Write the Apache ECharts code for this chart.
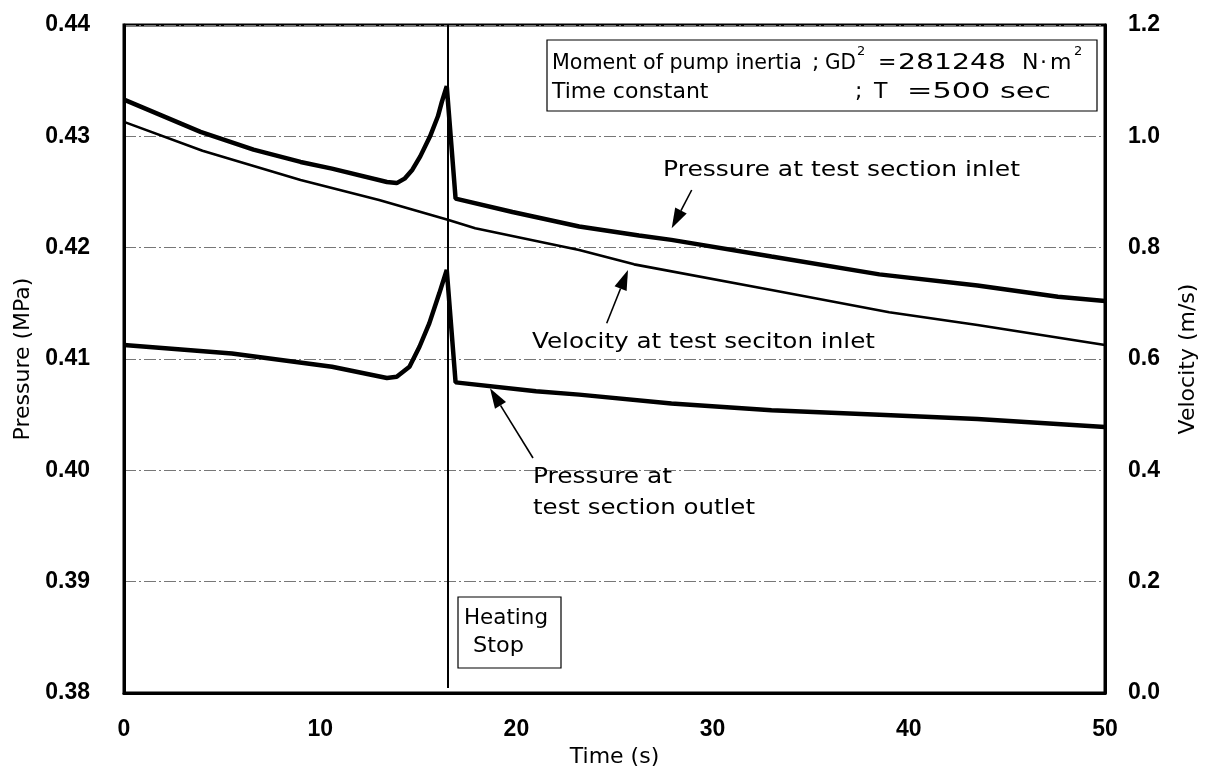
<!DOCTYPE html>
<html>
<head>
<meta charset="utf-8">
<script src="https://cdn.jsdelivr.net/npm/echarts@6/dist/echarts.min.js"></script>
<style>
html,body{margin:0;padding:0;background:#fff;}
#chart{width:1207px;height:777px;}
</style>
</head>
<body>
<div id="chart"></div>
<script>
// ---------- data ----------
const timeTicks = [0, 10, 20, 30, 40, 50];
const pressureTicks = [0.38, 0.39, 0.40, 0.41, 0.42, 0.43, 0.44];
const velocityTicks = [0.0, 0.2, 0.4, 0.6, 0.8, 1.0, 1.2];

const timeInlet = [0, 3.9, 6.6, 9.0, 10.6, 13.4, 13.9, 14.3, 14.7, 15.1, 15.6, 16.0, 16.2, 16.45, 16.9, 19.8, 23.2, 26.25, 27.9, 33.0, 38.5, 43.5, 47.6, 50];
const pressureInlet = [0.4333, 0.4304, 0.4288, 0.4277, 0.4271, 0.4259, 0.4258, 0.4262, 0.4270, 0.4282, 0.4300, 0.4318, 0.4331, 0.4345, 0.4244, 0.4232, 0.4219, 0.4211, 0.4207, 0.4192, 0.4176, 0.4166, 0.4156, 0.4152];

const timeOutlet = [0, 5.5, 10.6, 13.4, 13.9, 14.55, 15.06, 15.56, 16.07, 16.45, 16.9, 21.0, 23.2, 27.9, 33.0, 38.5, 43.5, 50];
const pressureOutlet = [0.41125, 0.4105, 0.4093, 0.4083, 0.4084, 0.4093, 0.4111, 0.4132, 0.4159, 0.4180, 0.4079, 0.4071, 0.4068, 0.4060, 0.4054, 0.4050, 0.4046, 0.4039];

const timeVelocity = [0, 4.0, 9.0, 13.0, 16.5, 17.9, 23.2, 26.0, 33.0, 35.7, 39.0, 43.5, 50];
const velocityInlet = [1.026, 0.974, 0.9215, 0.8856, 0.850, 0.8347, 0.7958, 0.770, 0.7239, 0.7059, 0.684, 0.661, 0.6251];

const heatingStopTime = 16.5;
const heatingLineRange = [0.4400, 0.38045];

// ---------- chart ----------
const NUMFONT = '"Liberation Sans", Arial, sans-serif';
const TXTFONT = '"DejaVu Sans", sans-serif';
const pairs = (xs, ys) => xs.map((x, i) => [x, ys[i]]);

const chart = echarts.init(document.getElementById('chart'), null, {renderer: 'canvas'});

const measureCtx = document.createElement('canvas').getContext('2d');
function measure(str, size) {
  measureCtx.font = size + 'px ' + TXTFONT;
  return measureCtx.measureText(str).width;
}
function txt(str, x, y, w, size) {
  size = size || 22;
  const font = size + 'px ' + TXTFONT;
  let s = 1;
  if (w) {
    const m = measure(str, size);
    if (m > 0) s = w / m;
  }
  return {
    type: 'text', x: x, y: y, scaleX: s, z: 100,
    style: {text: str, font: font, fill: '#000', align: 'left', verticalAlign: 'middle'}
  };
}
function arrow(x1, y1, x2, y2) {
  const dx = x2 - x1, dy = y2 - y1, L = Math.sqrt(dx * dx + dy * dy);
  const ux = dx / L, uy = dy / L, hl = 20, hw = 6.5;
  const bx = x2 - ux * hl, by = y2 - uy * hl;
  return [
    {type: 'line', z: 100, shape: {x1: x1, y1: y1, x2: bx, y2: by}, style: {stroke: '#000', lineWidth: 1.6}},
    {type: 'polygon', z: 100, shape: {points: [[x2, y2], [bx - uy * hw, by + ux * hw], [bx + uy * hw, by - ux * hw]]}, style: {fill: '#000'}}
  ];
}

const graphics = [
  // parameter box
  {type: 'rect', z: 90, shape: {x: 547, y: 40, width: 550, height: 71}, style: {fill: '#fff', stroke: '#000', lineWidth: 1.2}},
  txt('Moment of pump inertia', 552, 63, 250),
  txt(';', 812, 63),
  txt('GD', 825, 63, 31),
  txt('2', 857, 52, null, 13),
  txt('=', 878, 63),
  txt('281248', 898, 63, 108),
  txt('N', 1022, 63),
  txt('\u00b7', 1040, 63),
  txt('m', 1050, 63),
  txt('2', 1074, 52, null, 13),
  txt('Time constant', 552, 92),
  txt(';', 855, 92),
  txt('T', 874, 92),
  txt('=500 sec', 907, 92, 144),
  // heating stop box
  {type: 'rect', z: 90, shape: {x: 458, y: 597, width: 103, height: 71}, style: {fill: '#fff', stroke: '#000', lineWidth: 1.2}},
  txt('Heating', 464, 618, 84),
  txt('Stop', 473, 646, 51),
  // curve labels
  txt('Pressure at test section inlet', 663, 170, 357),
  txt('Velocity at test seciton inlet', 532, 342, 343),
  txt('Pressure at', 533, 477, 139),
  txt('test section outlet', 533, 508, 222)
].concat(arrow(691.7, 190, 671.7, 228.3))
 .concat(arrow(606.7, 323.3, 628, 270))
 .concat(arrow(533, 458, 490, 388.3));

const option = {
  backgroundColor: '#fff',
  animation: false,
  grid: {left: 124, right: 100, top: 25, bottom: 84, show: true, borderColor: '#000', borderWidth: 3, backgroundColor: 'transparent'},
  xAxis: {
    type: 'value',
    min: timeTicks[0], max: timeTicks[timeTicks.length - 1], interval: 10,
    axisLine: {show: true, lineStyle: {color: '#000', width: 3}},
    axisTick: {show: false},
    splitLine: {show: false},
    axisLabel: {color: '#000', fontSize: 23, fontWeight: 'bold', fontFamily: NUMFONT, margin: 25},
    name: 'Time (s)', nameLocation: 'middle', nameGap: 53,
    nameTextStyle: {color: '#000', fontSize: 22, fontFamily: TXTFONT}
  },
  yAxis: [{
    type: 'value',
    min: pressureTicks[0], max: pressureTicks[pressureTicks.length - 1], interval: 0.01,
    axisLine: {show: true, lineStyle: {color: '#000', width: 3}},
    axisTick: {show: false},
    splitLine: {show: true, lineStyle: {color: '#777', width: 1, type: [12, 3, 2, 3]}},
    axisLabel: {color: '#000', fontSize: 23, fontWeight: 'bold', fontFamily: NUMFONT, margin: 34,
      formatter: v => v.toFixed(2)},
    name: 'Pressure (MPa)', nameLocation: 'middle', nameGap: 90,
    nameTextStyle: {color: '#000', fontSize: 22, fontFamily: TXTFONT}
  }, {
    type: 'value', position: 'right',
    min: velocityTicks[0], max: velocityTicks[velocityTicks.length - 1], interval: 0.2,
    axisLine: {show: true, lineStyle: {color: '#000', width: 3}},
    axisTick: {show: false},
    splitLine: {show: false},
    axisLabel: {color: '#000', fontSize: 23, fontWeight: 'bold', fontFamily: NUMFONT, margin: 23,
      formatter: v => v.toFixed(1)},
    name: 'Velocity (m/s)', nameLocation: 'middle', nameGap: 72,
    nameTextStyle: {color: '#000', fontSize: 22, fontFamily: TXTFONT}
  }],
  series: [{
    name: 'Pressure at test section inlet', type: 'line', yAxisIndex: 0,
    data: pairs(timeInlet, pressureInlet), showSymbol: false, symbol: 'none',
    lineStyle: {color: '#000', width: 4.5}, z: 5,
    markLine: {
      silent: true, symbol: 'none', label: {show: false},
      lineStyle: {color: '#000', width: 2, type: 'solid'},
      data: [[{coord: [heatingStopTime, heatingLineRange[0]]}, {coord: [heatingStopTime, heatingLineRange[1]]}]]
    }
  }, {
    name: 'Pressure at test section outlet', type: 'line', yAxisIndex: 0,
    data: pairs(timeOutlet, pressureOutlet), showSymbol: false, symbol: 'none',
    lineStyle: {color: '#000', width: 4.5}, z: 5
  }, {
    name: 'Velocity at test section inlet', type: 'line', yAxisIndex: 1,
    data: pairs(timeVelocity, velocityInlet), showSymbol: false, symbol: 'none',
    lineStyle: {color: '#000', width: 2.6}, z: 5
  }],
  graphic: graphics
};
chart.setOption(option);
</script>
</body>
</html>
